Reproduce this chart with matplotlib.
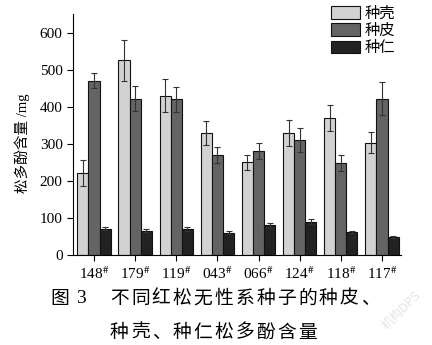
import matplotlib.pyplot as plt
import numpy as np

plt.rcParams['font.family'] = ['Liberation Serif', 'Noto Sans CJK SC']
plt.rcParams['mathtext.fontset'] = 'stix'

# 无性系编号
clones = ['148', '179', '119', '043', '066', '124', '118', '117']
series_names = ['种壳', '种皮', '种仁']

# 松多酚含量 (mg) 及标准差
shell = [220, 525, 430, 330, 250, 330, 370, 303]
shell_err = [35, 55, 45, 32, 20, 35, 35, 28]
coat = [470, 422, 420, 270, 280, 310, 248, 422]
coat_err = [20, 33, 33, 22, 22, 32, 22, 45]
kernel = [71, 65, 70, 60, 80, 90, 63, 49]
kernel_err = [4, 4, 6, 4, 6, 6, 3, 2]

caption_1 = '不同红松无性系种子的种皮、'
caption_2 = '种壳、种仁松多酚含量'

colors = ['#d2d2d2', '#646464', '#222222']

fig = plt.figure(figsize=(4.32, 3.45), dpi=100)
ax = fig.add_axes([0.169, 0.261, 0.759, 0.698])

x = np.arange(len(clones))
w = 0.27
for k, (vals, errs) in enumerate([(shell, shell_err), (coat, coat_err), (kernel, kernel_err)]):
    ax.bar(x + (k - 1) * w, vals, width=w, color=colors[k], edgecolor='#111111',
           linewidth=0.8, label=series_names[k],
           yerr=errs, error_kw=dict(ecolor='#333333', elinewidth=0.8, capsize=2, capthick=0.8))

ax.set_xlim(-0.51, 7.46)
ax.set_ylim(0, 650)
ax.set_yticks(range(0, 601, 100))
ax.set_xticks(x)
ax.set_xticklabels([c + r'$^{\#}$' for c in clones])
ax.tick_params(axis='both', labelsize=11, direction='out', length=4, width=0.8)
for s in ['top', 'right']:
    ax.spines[s].set_visible(False)
for s in ['left', 'bottom']:
    ax.spines[s].set_linewidth(0.8)

ax.set_ylabel('松多酚含量 /mg', fontsize=10.5)
ax.yaxis.set_label_coords(-0.131, 0.465)

ax.legend(loc='upper right', bbox_to_anchor=(1.0, 1.065), frameon=False,
          prop={'family': 'Noto Sans CJK SC', 'size': 11},
          handlelength=1.85, handleheight=0.9, labelspacing=0.02,
          handletextpad=0.3, borderpad=0.2, borderaxespad=0.2)

# 图题：逐字排布，字距约 20.9 px
cap_font = ['Noto Sans CJK SC', 'DejaVu Sans']
cap_size = 13.5
pitch = 20.9 / 432
fig.text(50 / 432, 0.136, '图', family=cap_font, fontsize=cap_size, va='center', ha='left')
fig.text(76 / 432, 0.136, '3', fontsize=14, va='center', ha='left')
for i, ch in enumerate(caption_1):
    fig.text(110 / 432 + i * pitch, 0.136, ch, family=cap_font, fontsize=cap_size,
             va='center', ha='left')
for i, ch in enumerate(caption_2):
    fig.text(110 / 432 + i * pitch, 0.037, ch, family=cap_font, fontsize=cap_size,
             va='center', ha='left')

fig.text(0.93, 0.1, '机构DPS', family=cap_font, fontsize=9, color='#e4e4e4',
         rotation=45, ha='center', va='center')

fig.savefig('out.png', dpi=100)
